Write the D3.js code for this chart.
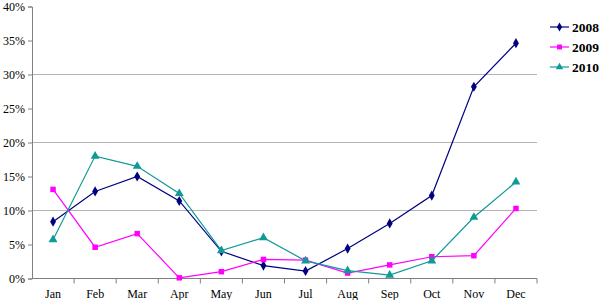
<!DOCTYPE html>
<html>
<head>
<meta charset="utf-8">
<script src="https://cdn.jsdelivr.net/npm/d3@7"></script>
<style>
  body { margin: 0; background: #fff; }
  svg text { font-family: "Times New Roman", "Liberation Serif", Times, serif !important; }
</style>
</head>
<body>
<div id="chart"></div>
<script>
var width = 600,
    height = 300;

var months = ["Jan", "Feb", "Mar", "Apr", "May", "Jun", "Jul", "Aug", "Sep", "Oct", "Nov", "Dec"];
var years = ["2008", "2009", "2010"];
var v2008 = [8.35, 12.8, 15.0, 11.4, 4.0, 1.9, 1.1, 4.4, 8.1, 12.2, 28.2, 34.6];
var v2009 = [13.1, 4.6, 6.6, 0.1, 1.0, 2.8, 2.7, 0.8, 2.0, 3.2, 3.35, 10.3];
var v2010 = [5.7, 18.0, 16.5, 12.5, 4.1, 6.0, 2.6, 1.15, 0.5, 2.6, 9.0, 14.2];
var yTicks = [0, 5, 10, 15, 20, 25, 30, 35, 40];
var gridTicks = [10, 20, 30];

var series = [
    { name: years[0], values: v2008, color: "#000080", shape: d3.symbolDiamond },
    { name: years[1], values: v2009, color: "#ff00ff", shape: d3.symbolSquare },
    { name: years[2], values: v2010, color: "#109a96", shape: d3.symbolTriangle }
];

var svg = d3.select("#chart").append("svg")
    .attr("width", width)
    .attr("height", height);

// plot area (window.top is reserved, so prefix the names)
var plotL = 32, plotR = 537, plotT = 6.5, plotB = 278.5;

var x = d3.scaleBand().domain(months).range([plotL, plotR]);
var y = d3.scaleLinear().domain([0, 40]).range([plotB, plotT]);

// grid
svg.append("g").selectAll("line").data(gridTicks).enter().append("line")
    .attr("x1", plotL).attr("x2", plotR)
    .attr("y1", function(d) { return y(d); })
    .attr("y2", function(d) { return y(d); })
    .attr("stroke", "#b4b4b4")
    .attr("stroke-width", 1);

// y axis
var yAxis = svg.append("g")
    .attr("transform", "translate(" + plotL + ",0)")
    .call(d3.axisLeft(y).tickValues(yTicks).tickSize(4).tickPadding(3)
        .tickFormat(function(d) { return d + "%"; }));
yAxis.attr("font-family", null);
yAxis.select(".domain").attr("stroke", "#808080");
yAxis.selectAll(".tick line").attr("stroke", "#808080");
yAxis.selectAll("text").attr("font-size", 12).attr("fill", "#000");

// x axis
var xAxisG = svg.append("g")
    .attr("transform", "translate(0," + plotB + ")");
xAxisG.append("line")
    .attr("x1", plotL).attr("x2", plotR)
    .attr("stroke", "#808080");
xAxisG.selectAll(".xt").data(months).enter().append("line")
    .attr("class", "xt")
    .attr("x1", function(d) { return x(d) + x.bandwidth(); })
    .attr("x2", function(d) { return x(d) + x.bandwidth(); })
    .attr("y1", 0).attr("y2", 5)
    .attr("stroke", "#808080");
xAxisG.selectAll(".xl").data(months).enter().append("text")
    .attr("x", function(d) { return x(d) + x.bandwidth() / 2; })
    .attr("y", 19)
    .attr("text-anchor", "middle")
    .attr("font-size", 12)
    .text(function(d) { return d; });

var line = d3.line()
    .x(function(d, i) { return x(months[i]) + x.bandwidth() / 2; })
    .y(function(d) { return y(d); });

series.forEach(function(s) {
    svg.append("path")
        .datum(s.values)
        .attr("d", line)
        .attr("fill", "none")
        .attr("stroke", s.color)
        .attr("stroke-width", 1.2);
    svg.append("g").selectAll("path").data(s.values).enter().append("path")
        .attr("transform", function(d, i) {
            return "translate(" + (x(months[i]) + x.bandwidth() / 2) + "," + y(d) + ")";
        })
        .attr("d", d3.symbol().type(s.shape).size(s.shape === d3.symbolTriangle ? 34 : 30))
        .attr("fill", s.color);
});

// legend
var legend = svg.append("g").selectAll("g").data(series).enter().append("g")
    .attr("transform", function(d, i) { return "translate(550," + (27 + i * 20) + ")"; });
legend.append("line")
    .attr("x1", 0).attr("x2", 19)
    .attr("stroke", function(d) { return d.color; })
    .attr("stroke-width", 1.2);
legend.append("path")
    .attr("transform", "translate(9.5,0)")
    .attr("d", function(d) { return d3.symbol().type(d.shape).size(24)(); })
    .attr("fill", function(d) { return d.color; });
legend.append("text")
    .attr("x", 22)
    .attr("y", 4.5)
    .attr("font-size", 13.5)
    .attr("font-weight", "bold")
    .text(function(d) { return d.name; });
</script>
</body>
</html>
